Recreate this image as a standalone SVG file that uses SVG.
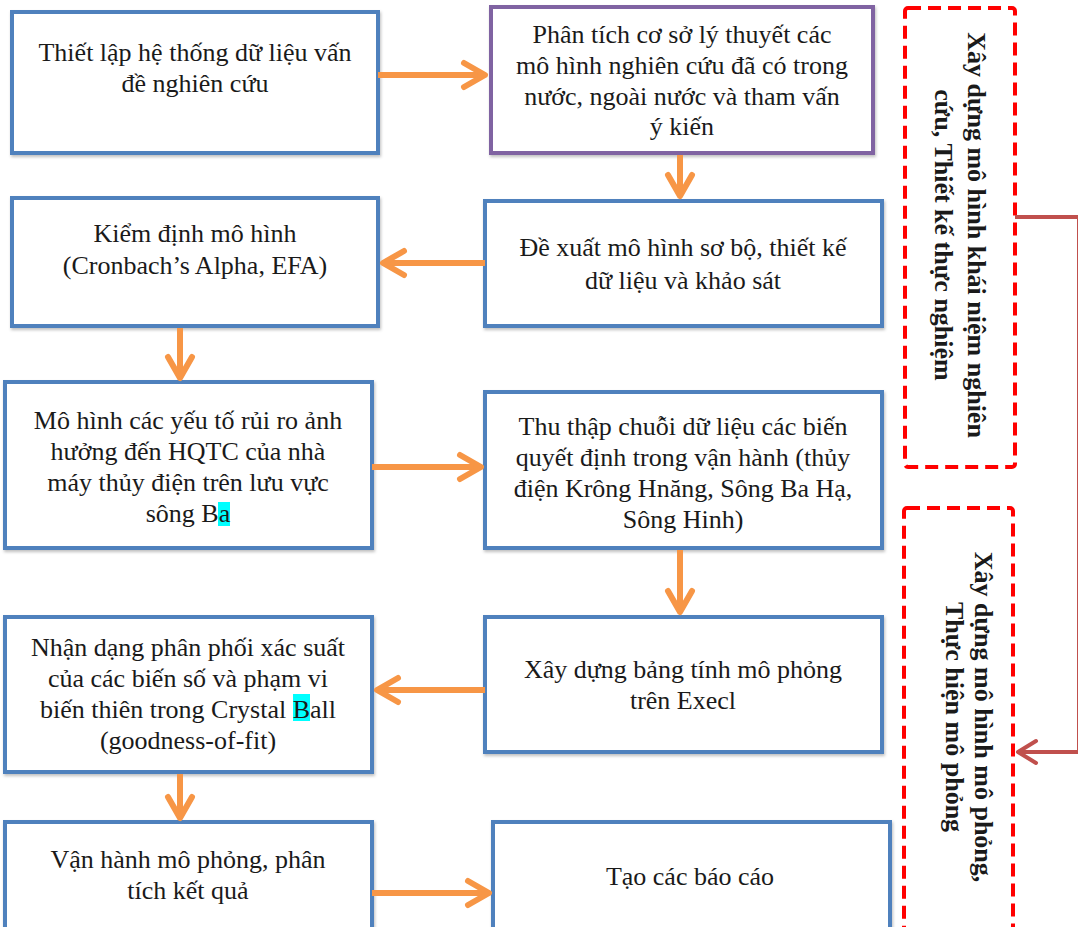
<svg xmlns="http://www.w3.org/2000/svg" width="1078" height="927" viewBox="0 0 1078 927">
<defs>
<style>
.box{fill:#ffffff;stroke:#4f81bd;stroke-width:4;filter:url(#sh)}
.pbox{fill:#ffffff;stroke:#8064a2;stroke-width:4;filter:url(#sh)}
.dash{fill:#ffffff;stroke:#ff0000;stroke-width:4;stroke-dasharray:13 7}
.t{font-family:"Liberation Serif","Times New Roman",serif;font-size:26px;fill:#1a1a1a;text-anchor:middle}
.tb{font-family:"Liberation Serif","Times New Roman",serif;font-size:26px;font-weight:bold;fill:#1a1a1a;text-anchor:middle}
.arr{fill:none;stroke:#f79646;stroke-width:6;marker-end:url(#ao)}
.con{fill:none;stroke:#c0504d;stroke-width:4}
.hl{fill:#00ffff}
</style>
<filter id="sh" x="-5%" y="-5%" width="110%" height="115%">
<feDropShadow dx="1" dy="2" stdDeviation="1.5" flood-color="#000000" flood-opacity="0.25"/>
</filter>
<marker id="ao" markerUnits="userSpaceOnUse" viewBox="-30 -20 40 40" markerWidth="40" markerHeight="40" refX="0" refY="0" orient="auto">
<path d="M -21 -12 L 0 0 L -21 12" fill="none" stroke="#f79646" stroke-width="6" stroke-linejoin="round" stroke-linecap="round"/>
</marker>
<marker id="ar" markerUnits="userSpaceOnUse" viewBox="-30 -20 40 40" markerWidth="40" markerHeight="40" refX="0" refY="0" orient="auto">
<path d="M -18 -11 L 0 0 L -18 11" fill="none" stroke="#c0504d" stroke-width="4" stroke-linejoin="round" stroke-linecap="round"/>
</marker>
</defs>
<rect width="1078" height="927" fill="#ffffff"/>

<g id="n1">
<rect class="box" x="12" y="12" width="366" height="141"/>
<text class="t" x="195" y="61">Thiết lập hệ thống dữ liệu vấn</text>
<text class="t" x="195" y="92">đề nghiên cứu</text>
</g>

<g id="n2">
<rect class="pbox" x="491" y="7" width="382" height="146"/>
<text class="t" x="682" y="43">Phân tích cơ sở lý thuyết các</text>
<text class="t" x="682" y="74">mô hình  nghiên cứu đã có trong</text>
<text class="t" x="682" y="105">nước, ngoài nước và tham vấn</text>
<text class="t" x="682" y="135">ý kiến</text>
</g>

<g id="n3">
<rect class="box" x="12" y="198" width="366" height="128"/>
<text class="t" x="195" y="242">Kiểm định mô hình</text>
<text class="t" x="195" y="274">(Cronbach’s Alpha, EFA)</text>
</g>

<g id="n4">
<rect class="box" x="485" y="201" width="397" height="125"/>
<text class="t" x="683" y="256">Đề xuất mô hình sơ bộ, thiết kế</text>
<text class="t" x="683" y="289">dữ liệu và khảo sát</text>
</g>

<g id="n5">
<rect class="box" x="5" y="382" width="367" height="166"/>
<rect class="hl" x="218" y="502" width="12" height="24"/>
<text class="t" x="188" y="429">Mô hình các yếu tố rủi ro ảnh</text>
<text class="t" x="188" y="460">hưởng đến HQTC của nhà</text>
<text class="t" x="188" y="491">máy thủy điện trên lưu vực</text>
<text class="t" x="188" y="522">sông Ba</text>
</g>

<g id="n6">
<rect class="box" x="485" y="392" width="397" height="156"/>
<text class="t" x="683" y="435">Thu thập chuỗi dữ liệu các biến</text>
<text class="t" x="683" y="466">quyết định trong vận hành (thủy</text>
<text class="t" x="683" y="497">điện Krông Hnăng, Sông Ba Hạ,</text>
<text class="t" x="683" y="528">Sông Hinh)</text>
</g>

<g id="n7">
<rect class="box" x="485" y="617" width="397" height="135"/>
<text class="t" x="683" y="678">Xây dựng bảng tính mô phỏng</text>
<text class="t" x="683" y="709">trên Execl</text>
</g>

<g id="n8">
<rect class="box" x="5" y="617" width="367" height="155"/>
<rect class="hl" x="293" y="694" width="17" height="27"/>
<text class="t" x="188" y="656">Nhận dạng phân phối xác suất</text>
<text class="t" x="188" y="687">của các biến số và phạm vi</text>
<text class="t" x="188" y="718">biến thiên trong Crystal Ball</text>
<text class="t" x="188" y="749">(goodness-of-fit)</text>
</g>

<g id="n9">
<rect class="box" x="5" y="822" width="367" height="130"/>
<text class="t" x="188" y="868">Vận hành mô phỏng, phân</text>
<text class="t" x="188" y="899">tích kết quả</text>
</g>

<g id="n10">
<rect class="box" x="493" y="822" width="397" height="130"/>
<text class="t" x="690" y="885">Tạo các báo cáo</text>
</g>

<g id="g1">
<rect class="dash" x="905" y="8" width="110" height="459" rx="3"/>
<g transform="translate(960,235) rotate(90)">
<text class="tb" x="0" y="-8">Xây dựng mô hình khái niệm nghiên</text>
<text class="tb" x="0" y="25">cứu, Thiết kế thực nghiệm</text>
</g>
</g>

<g id="g2">
<rect class="dash" x="904" y="508" width="109" height="440" rx="3"/>
<g transform="translate(960,717) rotate(90)">
<text class="tb" x="0" y="-15">Xây dựng mô hình mô phỏng,</text>
<text class="tb" x="0" y="14">Thực hiện mô phỏng</text>
</g>
</g>

<g id="connectors">
<line class="arr" x1="378" y1="75" x2="485" y2="75"/>
<line class="arr" x1="680" y1="155" x2="680" y2="196"/>
<line class="arr" x1="485" y1="263" x2="383" y2="263"/>
<line class="arr" x1="180" y1="328" x2="180" y2="378"/>
<line class="arr" x1="372" y1="467" x2="481" y2="467"/>
<line class="arr" x1="680" y1="550" x2="680" y2="612"/>
<line class="arr" x1="485" y1="690" x2="377" y2="690"/>
<line class="arr" x1="180" y1="774" x2="180" y2="818"/>
<line class="arr" x1="372" y1="893" x2="489" y2="893"/>
<path class="con" d="M 1015 217 H 1079 V 752 H 1018" marker-end="url(#ar)"/>
</g>
</svg>
